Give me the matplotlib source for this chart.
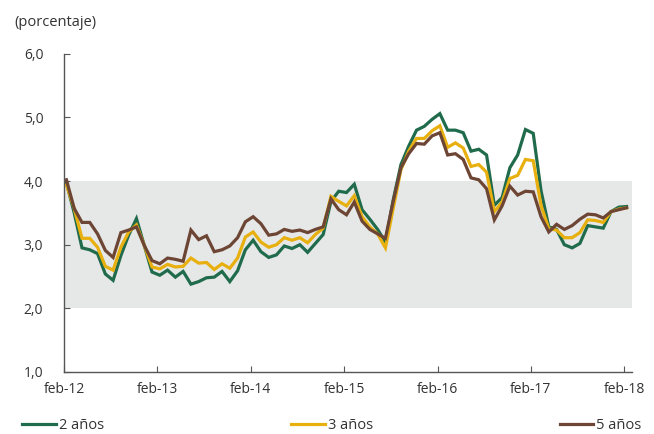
import matplotlib
matplotlib.use("Agg")
import matplotlib.pyplot as plt
import numpy as np

# monthly rates, feb-12 .. feb-18 (percent)
tasa_2 = [3.97, 3.50, 2.95, 2.92, 2.86, 2.54, 2.44, 2.83, 3.15, 3.41, 2.99, 2.57,
          2.52, 2.60, 2.49, 2.58, 2.38, 2.42, 2.48, 2.49, 2.58, 2.42, 2.59, 2.92,
          3.07, 2.89, 2.80, 2.84, 2.98, 2.94, 3.00, 2.88, 3.02, 3.16, 3.68, 3.84,
          3.82, 3.95, 3.55, 3.40, 3.24, 3.04, 3.70, 4.26, 4.55, 4.80, 4.86, 4.97,
          5.06, 4.80, 4.80, 4.76, 4.47, 4.50, 4.41, 3.62, 3.74, 4.21, 4.41, 4.81,
          4.75, 3.85, 3.28, 3.24, 3.00, 2.95, 3.02, 3.30, 3.28, 3.26, 3.52, 3.59,
          3.60]
tasa_3 = [3.94, 3.57, 3.10, 3.10, 2.96, 2.66, 2.60, 2.96, 3.20, 3.31, 2.99, 2.65,
          2.62, 2.69, 2.65, 2.66, 2.79, 2.71, 2.72, 2.61, 2.70, 2.63, 2.79, 3.12,
          3.20, 3.04, 2.96, 3.00, 3.11, 3.07, 3.11, 3.03, 3.16, 3.26, 3.76, 3.68,
          3.61, 3.77, 3.44, 3.28, 3.17, 2.95, 3.57, 4.18, 4.47, 4.67, 4.67, 4.79,
          4.87, 4.53, 4.60, 4.52, 4.23, 4.26, 4.14, 3.52, 3.67, 4.04, 4.09, 4.34,
          4.32, 3.62, 3.25, 3.23, 3.11, 3.11, 3.19, 3.39, 3.38, 3.35, 3.52, 3.56,
          3.58]
tasa_5 = [4.02, 3.57, 3.35, 3.35, 3.17, 2.91, 2.80, 3.19, 3.23, 3.28, 2.99, 2.75,
          2.70, 2.79, 2.77, 2.74, 3.23, 3.08, 3.14, 2.89, 2.92, 2.98, 3.11, 3.36,
          3.44, 3.33, 3.15, 3.17, 3.24, 3.21, 3.23, 3.19, 3.24, 3.28, 3.72, 3.55,
          3.47, 3.67, 3.37, 3.24, 3.17, 3.10, 3.68, 4.21, 4.43, 4.59, 4.58, 4.71,
          4.76, 4.41, 4.43, 4.34, 4.05, 4.02, 3.88, 3.39, 3.61, 3.92, 3.78, 3.84,
          3.83, 3.44, 3.20, 3.32, 3.24, 3.30, 3.40, 3.48, 3.47, 3.42, 3.52, 3.55,
          3.58]
series_labels = ['2 años', '3 años', '5 años']
tick_labels = ['feb-12', 'feb-13', 'feb-14', 'feb-15', 'feb-16', 'feb-17', 'feb-18']
y_ticks = [1.0, 2.0, 3.0, 4.0, 5.0, 6.0]
banda = (2.0, 4.0)

colors = ['#1f6b4b', '#e8b00f', '#6d4535']
plt.rcParams['font.family'] = ['Open Sans', 'DejaVu Sans']

fig = plt.figure(figsize=(6.54, 4.34), dpi=100)
ax = fig.add_axes([0.098, 0.143, 0.869, 0.733])

x = np.arange(len(tasa_2))
ax.axhspan(banda[0], banda[1], color='#e6e7e7', zorder=0, lw=0)
for vals, lab, c in zip([tasa_2, tasa_3, tasa_5], series_labels, colors):
    ax.plot(x, vals, color=c, lw=2.3, label=lab, solid_joinstyle='miter')

ax.set_xlim(-0.3, 72.75)
ax.set_ylim(1, 6)
ax.set_xticks([-0.3 + 12 * k for k in range(len(tick_labels))])
ax.set_xticklabels(tick_labels)
ax.set_yticks(y_ticks)
ax.set_yticklabels([f'{v:.1f}'.replace('.', ',') for v in y_ticks])

for s in ['top', 'right']:
    ax.spines[s].set_visible(False)
for s in ['left', 'bottom']:
    ax.spines[s].set_color('#555555')
    ax.spines[s].set_linewidth(1.0)
ax.tick_params(axis='y', direction='in', length=4, color='#555555', pad=15,
               labelsize=10, labelcolor='#333333')
ax.tick_params(axis='x', direction='in', length=4, color='#555555', pad=7,
               labelsize=10, labelcolor='#333333')

fig.text(0.022, 0.948, '(porcentaje)', fontsize=10.5, color='#333333', va='center')

fig.legend(loc='lower left', bbox_to_anchor=(0.025, -0.012, 0.965, 0.05), ncol=3,
           mode='expand', frameon=False, fontsize=10.5, handlelength=2.3,
           handletextpad=0.2, borderaxespad=0.0, labelcolor='#333333')

fig.savefig('out.png', dpi=100)
